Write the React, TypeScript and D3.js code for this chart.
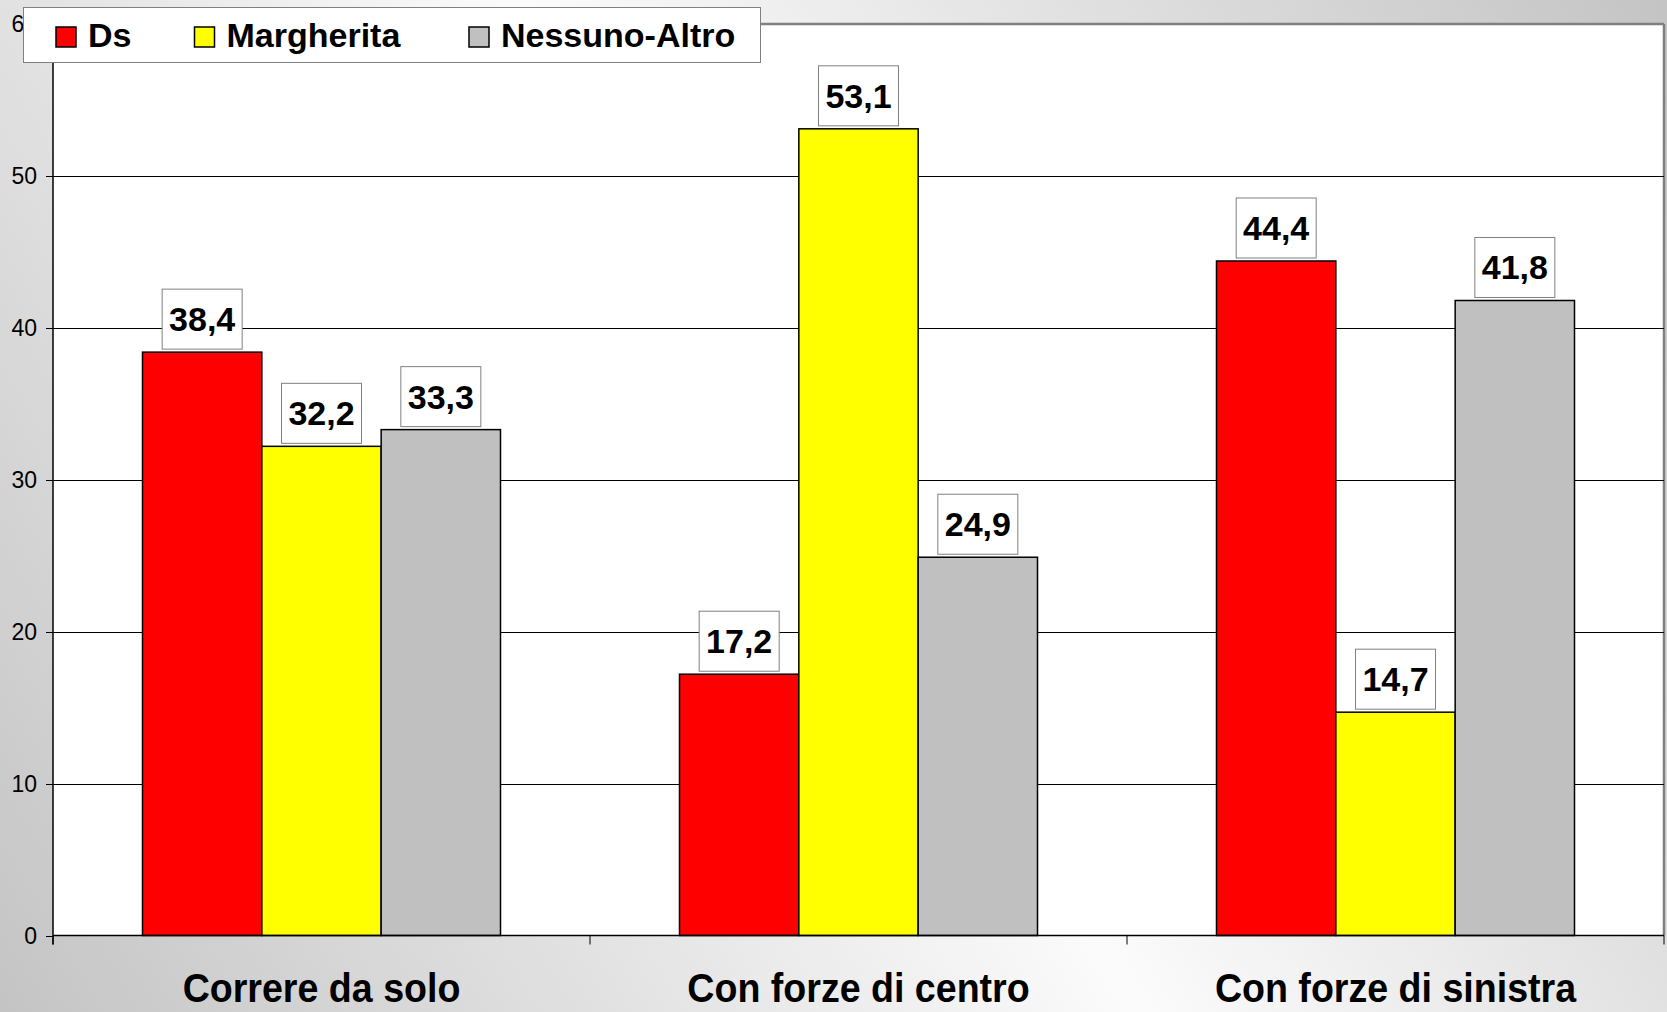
import React from "react";
import * as d3 from "d3";

const categories = ["Correre da solo", "Con forze di centro", "Con forze di sinistra"];
const seriesNames = ["Ds", "Margherita", "Nessuno-Altro"];
const seriesColors = ["#FF0000", "#FFFF00", "#C0C0C0"];
const dsValues = [38.4, 17.2, 44.4];
const margheritaValues = [32.2, 53.1, 14.7];
const altroValues = [33.3, 24.9, 41.8];
const yTicks = [0, 10, 20, 30, 40, 50, 60];

const W = 1667;
const H = 1012;
const plot = { left: 53, right: 1664, top: 24, bottom: 935.5 };
const FONT = "'Liberation Sans', Arial, Helvetica, sans-serif";

export default function App() {
  const values = [dsValues, margheritaValues, altroValues];
  const y = d3.scaleLinear().domain([0, 60]).range([plot.bottom, plot.top]);
  const x0 = d3.scaleBand<string>().domain(categories).range([plot.left, plot.right]).padding(0);
  const bw = x0.bandwidth();
  const unit = bw / 4.5;
  const x1 = d3.scaleBand<string>().domain(seriesNames).range([unit * 0.75, unit * 3.75]).padding(0);
  const fmt = (v: number) => d3.format(".1f")(v).replace(".", ",");

  const boundaries = [...categories.map((c) => x0(c) as number), plot.right];

  return (
    <svg width={W} height={H} style={{ position: "absolute", left: 0, top: 0 }} fontFamily={FONT}>
      <defs>
        <linearGradient id="bg" gradientUnits="userSpaceOnUse" x1={0} y1={H} x2={W} y2={0}>
          <stop offset="0" stopColor="#c4c4c4" />
          <stop offset="0.5" stopColor="#fbfbfb" />
          <stop offset="1" stopColor="#c4c4c4" />
        </linearGradient>
      </defs>
      <rect x={0} y={0} width={W} height={H} fill="url(#bg)" />
      {/* plot area */}
      <rect x={plot.left} y={plot.top} width={plot.right - plot.left} height={plot.bottom - plot.top} fill="#ffffff" />
      <line x1={plot.left} x2={plot.right} y1={plot.top} y2={plot.top} stroke="#808080" strokeWidth={2.5} />
      <line x1={plot.right} x2={plot.right} y1={plot.top} y2={plot.bottom} stroke="#808080" strokeWidth={2.5} />
      {yTicks.filter((t) => t > 0 && t < 60).map((t) => (
        <line key={"g" + t} x1={plot.left} x2={plot.right} y1={Math.round(y(t)) + 0.5} y2={Math.round(y(t)) + 0.5} stroke="#000" strokeWidth={1} />
      ))}
      {/* y ticks */}
      {yTicks.map((t) => (
        <g key={"t" + t}>
          <line x1={plot.left - 7} x2={plot.left} y1={Math.round(y(t)) + 0.5} y2={Math.round(y(t)) + 0.5} stroke="#000" strokeWidth={1} />
          <text x={37} y={y(t)} dy="0.35em" textAnchor="end" fontSize={23} fill="#000">{t}</text>
        </g>
      ))}
      {/* bars */}
      {categories.map((c, ci) => (
        <g key={c} transform={`translate(${x0(c)},0)`}>
          {seriesNames.map((s, si) => {
            const v = values[si][ci];
            return (
              <rect key={s} x={x1(s)} y={y(v)} width={x1.bandwidth()} height={y(0) - y(v)} fill={seriesColors[si]} stroke="#000" strokeWidth={1.5} />
            );
          })}
        </g>
      ))}
      {/* axes */}
      <line x1={plot.left} x2={plot.left} y1={plot.top} y2={plot.bottom + 9} stroke="#000" strokeWidth={1.5} />
      <line x1={plot.left} x2={plot.right} y1={plot.bottom} y2={plot.bottom} stroke="#000" strokeWidth={1.5} />
      {boundaries.map((b, i) => (
        <line key={"xb" + i} x1={b} x2={b} y1={plot.bottom} y2={plot.bottom + 9} stroke="#000" strokeWidth={1} />
      ))}
      {/* data labels */}
      {categories.map((c, ci) => (
        <g key={"l" + c} transform={`translate(${x0(c)},0)`}>
          {seriesNames.map((s, si) => {
            const v = values[si][ci];
            const cx = (x1(s) as number) + x1.bandwidth() / 2;
            const bottom = y(v) - 3;
            return (
              <g key={s}>
                <rect x={cx - 40} y={bottom - 60} width={80} height={60} fill="#fff" stroke="#808080" strokeWidth={1} />
                <text x={cx} y={bottom - 18} textAnchor="middle" fontSize={34} fontWeight="bold" fill="#000">{fmt(v)}</text>
              </g>
            );
          })}
        </g>
      ))}
      {/* category labels */}
      {categories.map((c) => (
        <text key={"c" + c} transform={`translate(${(x0(c) as number) + bw / 2},1002) scale(0.94,1)`} textAnchor="middle" fontSize={40} fontWeight="bold" fill="#000">{c}</text>
      ))}
      {/* legend */}
      <g>
        <rect x={23.5} y={7.5} width={737} height={55} fill="#fff" stroke="#808080" strokeWidth={1} />
        {seriesNames.map((s, i) => {
          const lx = [56, 194.5, 469][i];
          return (
            <g key={"lg" + s}>
              <rect x={lx} y={27} width={20} height={20} fill={seriesColors[i]} stroke="#000" strokeWidth={1.5} />
              <text x={lx + 32} y={47} fontSize={34} fontWeight="bold" fill="#000">{s}</text>
            </g>
          );
        })}
      </g>
    </svg>
  );
}
